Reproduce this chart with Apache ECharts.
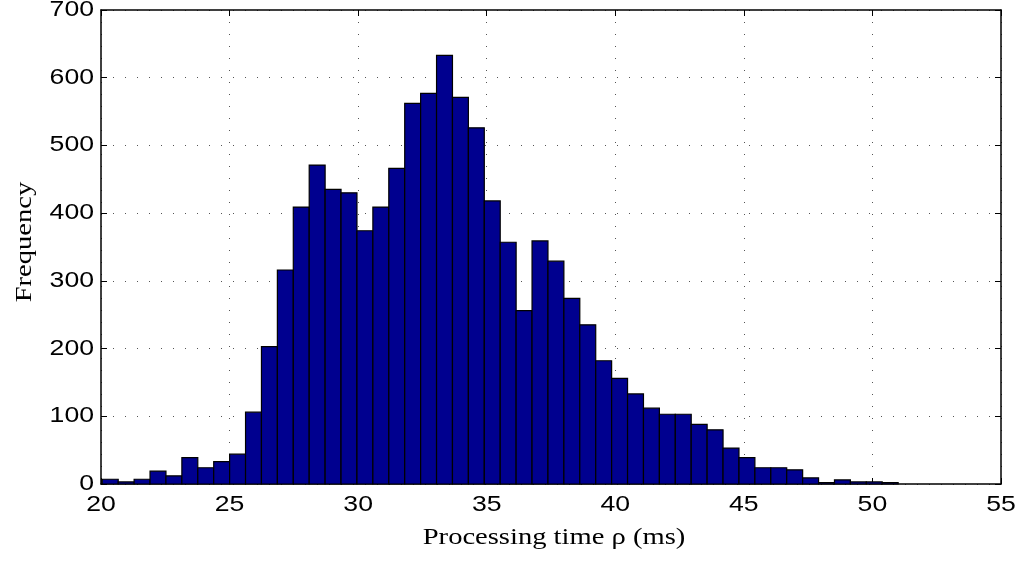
<!DOCTYPE html>
<html>
<head>
<meta charset="utf-8">
<script src="https://cdn.jsdelivr.net/npm/echarts@6/dist/echarts.min.js"></script>
<style>
html,body{margin:0;padding:0;background:#fff;}
#chart{width:1023px;height:563px;}
</style>
</head>
<body>
<div id="chart"></div>
<script>
// Histogram bin edges (ms)
const binEdges = [20.05, 20.669, 21.288, 21.907, 22.526, 23.145, 23.764, 24.383, 25.002, 25.621,
  26.24, 26.859, 27.478, 28.097, 28.716, 29.335, 29.954, 30.573, 31.192, 31.811,
  32.43, 33.049, 33.668, 34.287, 34.906, 35.525, 36.144, 36.763, 37.382, 38.001,
  38.62, 39.239, 39.858, 40.477, 41.096, 41.715, 42.334, 42.953, 43.572, 44.191,
  44.81, 45.429, 46.048, 46.667, 47.286, 47.905, 48.524, 49.143, 49.762, 50.381, 51.0];
// Frequency per bin
const counts = [7, 3, 7, 19, 12, 39, 24, 33, 44, 106,
  203, 316, 409, 471, 435, 430, 374, 409, 466, 562,
  577, 633, 571, 526, 418, 357, 256, 359, 329, 274,
  235, 182, 156, 133, 112, 103, 103, 88, 80, 53,
  39, 24, 24, 21, 9, 2, 6, 3, 3, 2];
const xTicks = [20, 25, 30, 35, 40, 45, 50, 55];
const yTicks = [0, 100, 200, 300, 400, 500, 600, 700];
const xTitle = 'Processing time ρ (ms)';
const yTitle = 'Frequency';

const histData = counts.map((c, i) => [binEdges[i], binEdges[i + 1], c]);

const chart = echarts.init(document.getElementById('chart'), null, {renderer: 'canvas'});
const sansFont = 'Liberation Sans';
const serifFont = 'Liberation Serif';
const gridLine = {show: true, lineStyle: {color: '#555', width: 1, type: [1, 11]}};
const tickStretch = 1.21;
const titleStretch = 1.19;

function frameAxis(extra) {
  return Object.assign({
    axisLine: {show: true, onZero: false, lineStyle: {color: '#000', width: 1.5}},
    axisTick: {show: true, inside: true, length: 6, lineStyle: {color: '#000'}},
    axisLabel: {show: false},
    splitLine: {show: false}
  }, extra);
}

chart.setOption({
  animation: false,
  backgroundColor: '#fff',
  grid: {left: 101, right: 22, top: 10, bottom: 79, containLabel: false},
  xAxis: [
    frameAxis({type: 'value', min: xTicks[0], max: xTicks[xTicks.length - 1], interval: 5, position: 'bottom', splitLine: gridLine}),
    frameAxis({type: 'value', min: xTicks[0], max: xTicks[xTicks.length - 1], interval: 5, position: 'top'})
  ],
  yAxis: [
    frameAxis({type: 'value', min: yTicks[0], max: yTicks[yTicks.length - 1], interval: 100, position: 'left', splitLine: gridLine}),
    frameAxis({type: 'value', min: yTicks[0], max: yTicks[yTicks.length - 1], interval: 100, position: 'right'})
  ],
  series: [{
    type: 'custom',
    xAxisIndex: 0, yAxisIndex: 0,
    data: histData,
    encode: {x: [0, 1], y: 2},
    renderItem: function (params, api) {
      const p0 = api.coord([api.value(0), api.value(2)]);
      const p1 = api.coord([api.value(1), 0]);
      return {
        type: 'rect',
        shape: {x: p0[0], y: p0[1], width: p1[0] - p0[0], height: p1[1] - p0[1]},
        style: {fill: '#00008F', stroke: '#000', lineWidth: 1.2}
      };
    }
  }]
});

// Text labels (real text, slightly widened like the reference)
const graphics = [];
const origin = chart.convertToPixel({xAxisIndex: 0, yAxisIndex: 0}, [xTicks[0], yTicks[0]]);
const farCorner = chart.convertToPixel({xAxisIndex: 0, yAxisIndex: 0}, [xTicks[xTicks.length - 1], yTicks[yTicks.length - 1]]);
function textEl(txt, x, y, size, family, stretch, align, rotation) {
  return {type: 'text', x: x, y: y, scaleX: stretch, rotation: rotation || 0, silent: true,
    style: {text: txt, fontSize: size, fontFamily: family, fill: '#000', align: align, verticalAlign: 'middle'}};
}
xTicks.forEach(t => {
  const p = chart.convertToPixel({xAxisIndex: 0, yAxisIndex: 0}, [t, 0]);
  graphics.push(textEl(String(t), p[0], origin[1] + 21, 22, sansFont, tickStretch, 'center'));
});
yTicks.forEach(t => {
  const p = chart.convertToPixel({xAxisIndex: 0, yAxisIndex: 0}, [xTicks[0], t]);
  graphics.push(textEl(String(t), p[0] - 7, p[1], 22, sansFont, tickStretch, 'right'));
});
graphics.push(textEl(xTitle, (origin[0] + farCorner[0]) / 2 + 3, origin[1] + 54, 24, serifFont, titleStretch, 'center'));
graphics.push(textEl(yTitle, 25, 242, 24, serifFont, titleStretch, 'center', Math.PI / 2));
chart.setOption({graphic: graphics});
</script>
</body>
</html>
